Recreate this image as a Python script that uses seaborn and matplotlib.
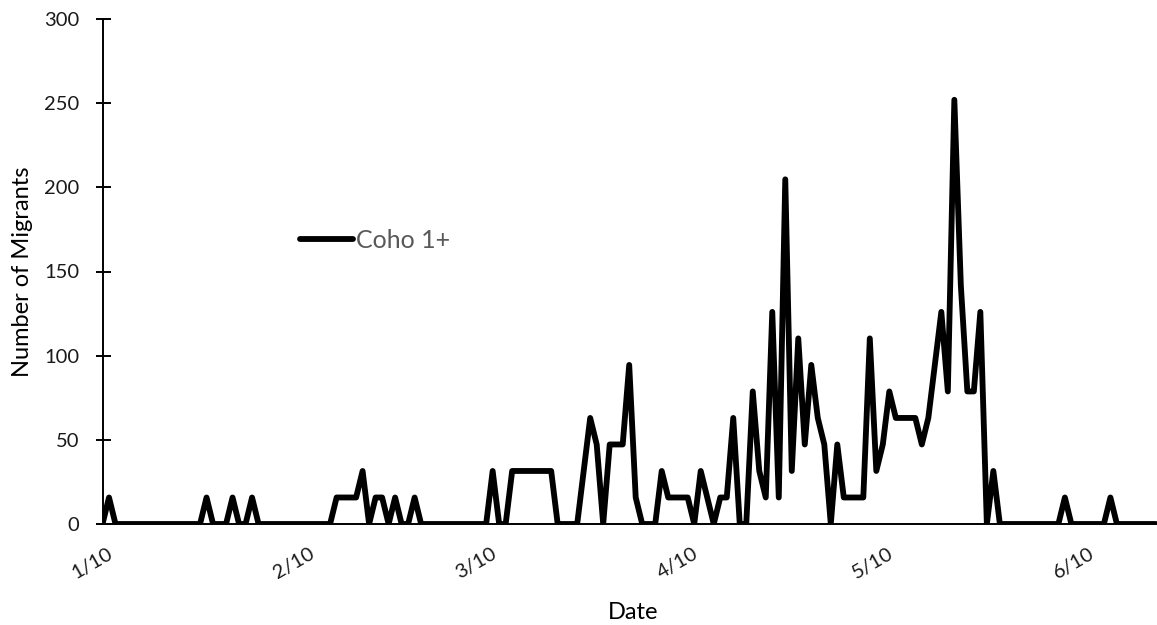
import matplotlib
matplotlib.use("Agg")
import matplotlib.pyplot as plt
import matplotlib.transforms as mtransforms
import numpy as np
import pandas as pd
import seaborn as sns

# ---------------- data ----------------
start_date = "2019-01-10"
end_date = "2019-06-21"
series_name = "Coho 1+"
migrants = [
    0, 15.75, 0, 0, 0, 0, 0, 0, 0, 0, 0, 0, 0, 0, 0, 0,           # day 0-15
    15.75, 0, 0, 0, 15.75, 0, 0, 15.75,                            # 16-23
    0, 0, 0, 0, 0, 0, 0, 0, 0, 0, 0, 0,                            # 24-35
    15.75, 15.75, 15.75, 15.75, 31.5, 0, 15.75, 15.75, 0, 15.75,   # 36-45
    0, 0, 15.75,                                                   # 46-48
    0, 0, 0, 0, 0, 0, 0, 0, 0, 0, 0,                               # 49-59
    31.5, 0, 0, 31.5, 31.5, 31.5, 31.5, 31.5, 31.5, 31.5,          # 60-69
    0, 0, 0, 0, 31.5, 63, 47.25, 0, 47.25, 47.25, 47.25,           # 70-80
    94.5, 15.75, 0, 0, 0, 31.5, 15.75, 15.75, 15.75, 15.75,        # 81-90
    0, 31.5, 15.75, 0, 15.75, 15.75, 63, 0, 0,                     # 91-99
    78.75, 31.5, 15.75, 126, 15.75, 204.75, 31.5, 110.25, 47.25,   # 100-108
    94.5, 63, 47.25, 0, 47.25, 15.75, 15.75, 15.75, 15.75,         # 109-117
    110.25, 31.5, 47.25, 78.75, 63, 63, 63, 63, 47.25, 63,         # 118-127
    94.5, 126, 78.75, 252, 141.75, 78.75, 78.75, 126, 0, 31.5,     # 128-137
    0, 0, 0, 0, 0, 0, 0, 0, 0, 0,                                  # 138-147
    15.75, 0, 0, 0, 0, 0, 0, 15.75,                                # 148-155
    0, 0, 0, 0, 0, 0, 0,                                           # 156-162
]
tick_dates = ["2019-01-10", "2019-02-10", "2019-03-10",
              "2019-04-10", "2019-05-10", "2019-06-10"]
tick_labels = ["1/10", "2/10", "3/10", "4/10", "5/10", "6/10"]
y_ticks = [0, 50, 100, 150, 200, 250, 300]

# ---------------- style ----------------
sns.set_theme(style="white")
plt.rcParams["font.family"] = ["Lato", "DejaVu Sans"]

dates = pd.date_range(start_date, periods=len(migrants), freq="D")
df = pd.DataFrame({"Date": dates, series_name: migrants})

W, H = 1157, 625
fig = plt.figure(figsize=(W / 100, H / 100), dpi=100)
x0, x1, y0, y1 = 102.5, 1157, 19, 524
ax = fig.add_axes([x0 / W, 1 - y1 / H, (x1 - x0) / W, (y1 - y0) / H])

sns.lineplot(data=df, x="Date", y=series_name, color="black",
             linewidth=4.2, ax=ax, label=series_name)

ax.set_xlim(dates[0], pd.Timestamp(end_date) + pd.Timedelta(hours=4))
ax.set_ylim(0, 300)

for side in ["top", "right"]:
    ax.spines[side].set_visible(False)
for side in ["left", "bottom"]:
    ax.spines[side].set_color("black")
    ax.spines[side].set_linewidth(1.4)

ax.set_yticks(y_ticks)
ax.tick_params(axis="y", left=True, direction="inout", length=10.8,
               width=1.4, color="black", pad=11.5, labelsize=14.5,
               labelcolor="#1a1a1a")
ax.set_xticks(pd.to_datetime(tick_dates))
ax.set_xticklabels(tick_labels, rotation=30, ha="right",
                   rotation_mode="anchor")
ax.tick_params(axis="x", bottom=False, length=0, pad=15, labelsize=14.5,
               labelcolor="#1a1a1a")
offset = mtransforms.ScaledTranslation(4.5 / 100, 0, fig.dpi_scale_trans)
for lab in ax.get_xticklabels():
    lab.set_transform(lab.get_transform() + offset)

ax.set_xlabel("Date", fontsize=17, color="black")
ax.set_ylabel("Number of Migrants", fontsize=17, color="black")
ax.xaxis.set_label_coords((633 - x0) / (x1 - x0), -(602 - y1) / (y1 - y0))
ax.yaxis.set_label_coords(-(x0 - 33) / (x1 - x0), 0.5)

leg = ax.legend(loc="center left",
                bbox_to_anchor=((300 - x0) / (x1 - x0), (y1 - 240) / (y1 - y0)),
                frameon=False, handlelength=2.1, handletextpad=0.12,
                borderpad=0, borderaxespad=0, fontsize=18)
for t in leg.get_texts():
    t.set_color("#595959")

fig.savefig("out.png", dpi=100)
